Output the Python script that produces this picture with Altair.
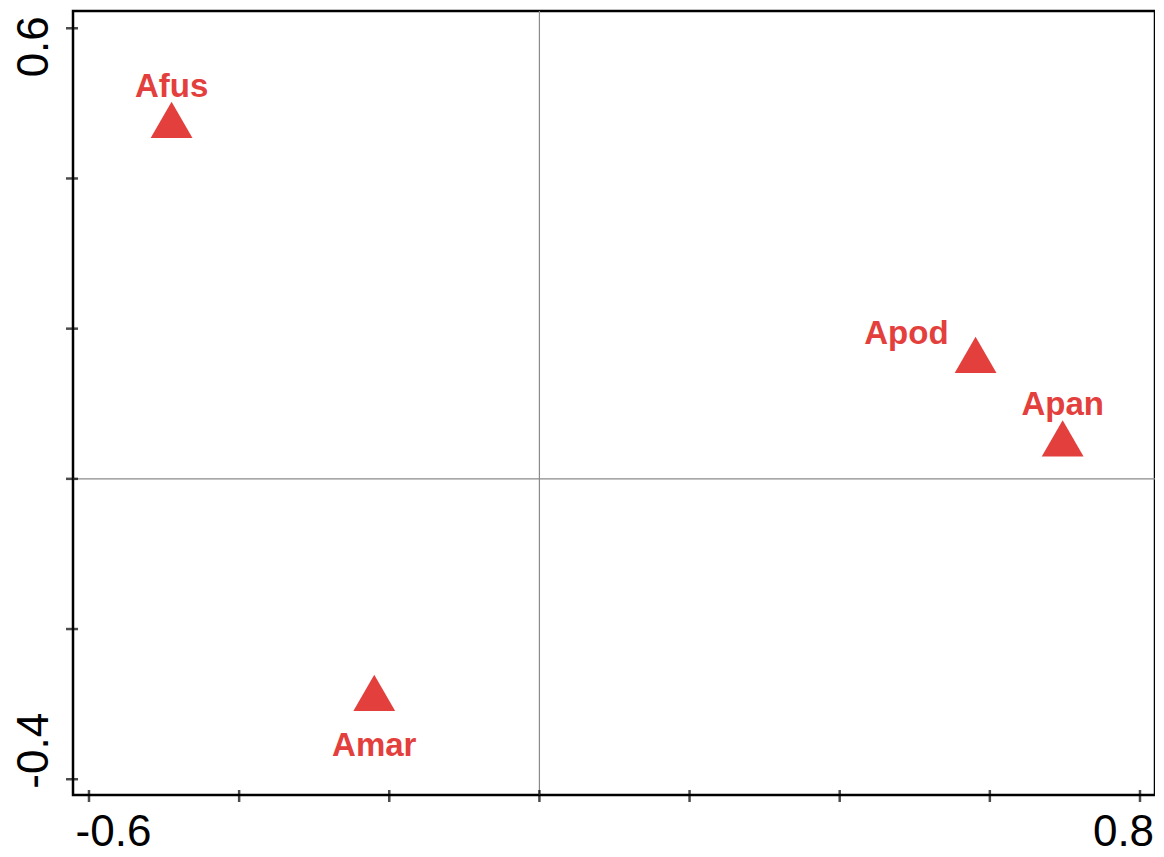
import altair as alt
import pandas as pd

# ---- data ----
species = ["Afus", "Apod", "Apan", "Amar"]
axis1 = [-0.490, 0.581, 0.697, -0.220]
axis2 = [0.478, 0.165, 0.054, -0.285]
label_side = ["above", "left", "above", "below"]

x_ticks = [-0.6, -0.4, -0.2, 0.0, 0.2, 0.4, 0.6, 0.8]
y_ticks = [-0.4, -0.2, 0.0, 0.2, 0.4, 0.6]
x_labels = [-0.6, 0.8]
y_labels = [-0.4, 0.6]
origin = [0.0]

x_domain = [-0.6213, 0.8200]
y_domain = [-0.421, 0.623]

RED = "#E3403D"
W, H = 1082, 784

pts = pd.DataFrame({"sp": species, "x": axis1, "y": axis2, "side": label_side})
xt = pd.DataFrame({"v": x_ticks})
yt = pd.DataFrame({"v": y_ticks})
org = pd.DataFrame({"v": origin})

xs = alt.Scale(domain=x_domain, nice=False, zero=False)
ys = alt.Scale(domain=y_domain, nice=False, zero=False)

lbl_expr = "datum.value < 0 ? '-' + format(abs(datum.value), '.1f') : format(datum.value, '.1f')"

x_axis = alt.Axis(
    values=x_labels, title=None, grid=False, ticks=False, tickSize=0, domain=False,
    labelExpr=lbl_expr, labelFont="Liberation Sans", labelFontSize=44, labelColor="black",
    labelPadding=15, labelAlign="center",
    labelOffset={"condition": {"test": "datum.value < 0", "value": 24}, "value": -17},
)
y_axis = alt.Axis(
    values=y_labels, title=None, grid=False, ticks=False, tickSize=0, domain=False,
    labelExpr=lbl_expr, labelFont="Liberation Sans", labelFontSize=44, labelColor="black",
    labelAngle=270, labelAlign="center", labelBaseline="alphabetic", labelPadding=26,
    labelOffset={"condition": {"test": "datum.value > 0", "value": 18}, "value": -29},
)

X = lambda f: alt.X(f, scale=xs, axis=x_axis)
Y = lambda f: alt.Y(f, scale=ys, axis=y_axis)

vrule = alt.Chart(org).mark_rule(color="#8a8a8a", strokeWidth=1.2).encode(x=X("v:Q"))
hrule = alt.Chart(org).mark_rule(color="#8a8a8a", strokeWidth=1.2).encode(y=Y("v:Q"))

xtick = alt.Chart(xt).mark_tick(color="black", thickness=2.5, size=12).encode(
    x=X("v:Q"), y=alt.value(H + 1)
)
ytick = alt.Chart(yt).mark_tick(color="black", thickness=2.5, size=12).encode(
    y=Y("v:Q"), x=alt.value(-1)
)

points = alt.Chart(pts).mark_point(
    shape="triangle-up", filled=True, size=1750, color=RED, opacity=1
).encode(x=X("x:Q"), y=Y("y:Q"))

def labels(side, align, dx, dy):
    return alt.Chart(pts).transform_filter(
        alt.datum.side == side
    ).mark_text(
        font="Liberation Sans", fontWeight="bold", fontSize=33, color=RED,
        align=align, baseline="alphabetic", dx=dx, dy=dy
    ).encode(x=X("x:Q"), y=Y("y:Q"), text="sp:N")

chart = alt.layer(
    vrule, hrule, points,
    labels("above", "center", 0, -23),
    labels("left", "right", -27, -11),
    labels("below", "center", 0, 63),
    xtick, ytick,
).properties(
    width=W, height=H,
    autosize=alt.AutoSizeParams(type="none"),
    padding={"left": 65, "top": 3, "right": 0, "bottom": 54},
).configure_view(
    stroke="black", strokeWidth=2.5
)

chart.save("out.html", embed_options={"renderer": "svg", "actions": False})
